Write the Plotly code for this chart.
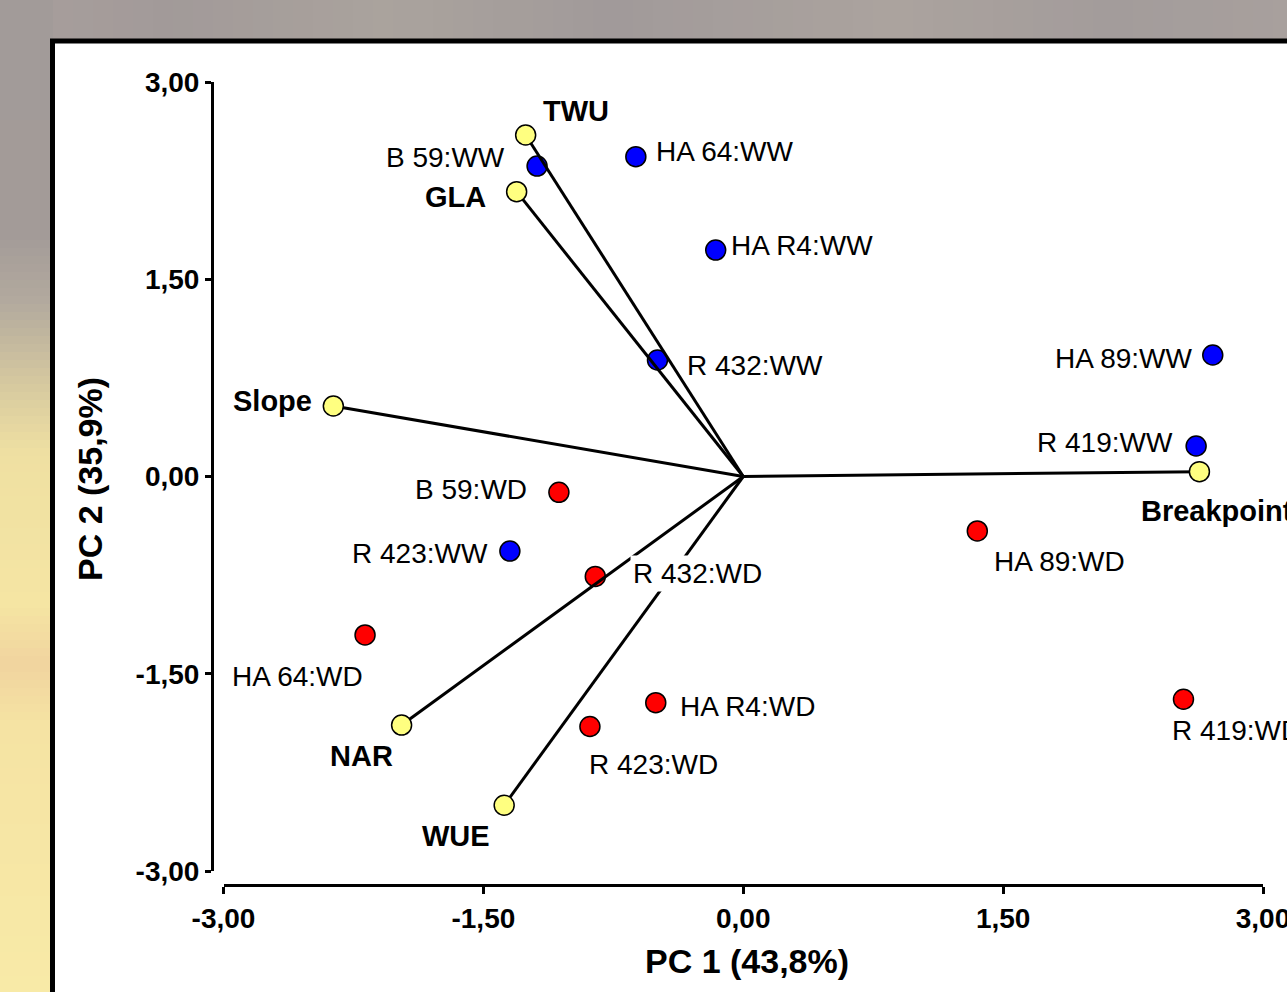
import plotly.graph_objects as go

# ---------------- data ----------------
var_names = ["TWU", "GLA", "Slope", "Breakpoint", "NAR", "WUE"]
var_pc1 = [-1.256, -1.308, -2.366, 2.633, -1.972, -1.380]
var_pc2 = [2.597, 2.166, 0.536, 0.037, -1.890, -2.500]

ww_names = ["B 59:WW", "HA 64:WW", "HA R4:WW", "R 432:WW", "HA 89:WW", "R 419:WW", "R 423:WW"]
ww_pc1 = [-1.190, -0.620, -0.159, -0.495, 2.710, 2.614, -1.347]
ww_pc2 = [2.361, 2.432, 1.722, 0.886, 0.924, 0.232, -0.567]

wd_names = ["B 59:WD", "R 432:WD", "HA 64:WD", "HA R4:WD", "R 423:WD", "HA 89:WD", "R 419:WD"]
wd_pc1 = [-1.064, -0.854, -2.183, -0.505, -0.885, 1.351, 2.541]
wd_pc2 = [-0.120, -0.760, -1.205, -1.720, -1.901, -0.414, -1.694]

tick_vals = [-3, -1.5, 0, 1.5, 3]
tick_text = ["-3,00", "-1,50", "0,00", "1,50", "3,00"]
x_title = "PC 1 (43,8%)"
y_title = "PC 2 (35,9%)"

# ---------------- label styling (anchor, xshift, yshift in px) ----------------
var_label_style = {
    "TWU": ("left", 16, 24),
    "GLA": ("right", -30, -5),
    "Slope": ("right", -20, 5),
    "Breakpoint": ("left", -59, -39),
    "NAR": ("left", -73, -31),
    "WUE": ("left", -83, -31),
}
sample_label_style = {
    "B 59:WW": ("right", -31, 9),
    "HA 64:WW": ("left", 19, 5),
    "HA R4:WW": ("left", 14, 5),
    "R 432:WW": ("left", 29, -6),
    "HA 89:WW": ("right", -20, -4),
    "R 419:WW": ("right", -22, 3),
    "R 423:WW": ("right", -21, -2),
    "B 59:WD": ("right", -31, 3),
    "R 432:WD": ("left", 35, 3),
    "HA 64:WD": ("left", -134, -42),
    "HA R4:WD": ("left", 23, -4),
    "R 423:WD": ("left", -2, -38),
    "HA 89:WD": ("left", 16, -31),
    "R 419:WD": ("left", -12, -31),
}

FONT = "Liberation Sans, Arial, Helvetica, sans-serif"
W, H = 1287, 992
ML, MR, MT, MB = 212, 24, 82, 107
PW = W - ML - MR
PH = H - MT - MB


def px_x(px):
    return (px - ML) / PW


def px_y(py):
    return (H - MB - py) / PH


def hex2rgb(h):
    h = h.lstrip("#")
    return [int(h[i:i + 2], 16) for i in (0, 2, 4)]


def blend(c0, c1, t):
    a, b = hex2rgb(c0), hex2rgb(c1)
    return "rgb(%d,%d,%d)" % tuple(round(a[i] + (b[i] - a[i]) * t) for i in range(3))


fig = go.Figure()

# sample points (under the loading lines)
fig.add_trace(go.Scatter(
    x=ww_pc1, y=ww_pc2, mode="markers", name="WW",
    marker=dict(size=20, color="#0000ff", line=dict(color="black", width=1.5)),
    cliponaxis=False, hoverinfo="text", text=ww_names))
fig.add_trace(go.Scatter(
    x=wd_pc1, y=wd_pc2, mode="markers", name="WD",
    marker=dict(size=20, color="#ff0000", line=dict(color="black", width=1.5)),
    cliponaxis=False, hoverinfo="text", text=wd_names))

# loading vectors from origin
for vx, vy in zip(var_pc1, var_pc2):
    fig.add_trace(go.Scatter(
        x=[0, vx], y=[0, vy], mode="lines",
        line=dict(color="black", width=3), hoverinfo="skip", cliponaxis=False))

# variable points
fig.add_trace(go.Scatter(
    x=var_pc1, y=var_pc2, mode="markers", name="Variables",
    marker=dict(size=20, color="#ffff80", line=dict(color="black", width=1.5)),
    cliponaxis=False, hoverinfo="text", text=var_names))

annotations = []
for n, vx, vy in zip(var_names, var_pc1, var_pc2):
    a, dx, dy = var_label_style[n]
    annotations.append(dict(x=vx, y=vy, xref="x", yref="y", text="<b>%s</b>" % n,
                            showarrow=False, xanchor=a, yanchor="middle",
                            xshift=dx, yshift=dy, borderpad=0,
                            font=dict(family=FONT, size=29, color="black")))
for names, xs, ys in ((ww_names, ww_pc1, ww_pc2), (wd_names, wd_pc1, wd_pc2)):
    for n, vx, vy in zip(names, xs, ys):
        a, dx, dy = sample_label_style[n]
        ann = dict(x=vx, y=vy, xref="x", yref="y", text=n,
                   showarrow=False, xanchor=a, yanchor="middle",
                   xshift=dx, yshift=dy, borderpad=0,
                   font=dict(family=FONT, size=28, color="black"))
        if n == "R 432:WD":
            ann["bgcolor"] = "white"
            ann["borderpad"] = 2
        annotations.append(ann)

# axis titles
annotations.append(dict(x=px_x(747), y=px_y(961), xref="paper", yref="paper",
                        text="<b>%s</b>" % x_title, showarrow=False,
                        xanchor="center", yanchor="middle",
                        font=dict(family=FONT, size=34, color="black")))
annotations.append(dict(x=px_x(90), y=px_y(479), xref="paper", yref="paper",
                        text="<b>%s</b>" % y_title, showarrow=False, textangle=-90,
                        xanchor="center", yanchor="middle",
                        font=dict(family=FONT, size=34, color="black")))

# background decoration (blurred photo look) and white framed panel
shapes = []
left_stops = [(0, "#a29b99"), (230, "#a39b98"), (300, "#b3aa9e"), (380, "#d6c99f"),
              (450, "#efe0a2"), (600, "#f5e5a3"), (660, "#f1d49f"), (720, "#f5e3a3"),
              (992, "#f8eaa7")]
step = 8
for yy in range(0, 992, step):
    for (y0, c0), (y1, c1) in zip(left_stops[:-1], left_stops[1:]):
        if y0 <= yy < y1:
            col = blend(c0, c1, (yy - y0) / (y1 - y0))
            break
    shapes.append(dict(type="rect", xref="paper", yref="paper",
                       x0=px_x(0), x1=px_x(53), y0=px_y(yy + step), y1=px_y(yy),
                       fillcolor=col, line=dict(width=0), layer="below"))
# subtle streaks in the top strip
top_stops = [(0, "#a89f9c"), (160, "#a29a99"), (380, "#aaa39d"), (600, "#a19a9a"),
             (880, "#aba39e"), (1100, "#a39c9b"), (1287, "#a8a09d")]
stepx = 20
for xx in range(53, 1287, stepx):
    for (x0, c0), (x1, c1) in zip(top_stops[:-1], top_stops[1:]):
        if x0 <= xx < x1:
            col = blend(c0, c1, (xx - x0) / (x1 - x0))
            break
    shapes.append(dict(type="rect", xref="paper", yref="paper",
                       x0=px_x(xx), x1=px_x(xx + stepx), y0=px_y(45), y1=px_y(0),
                       fillcolor=col, line=dict(width=0), layer="below"))
shapes.append(dict(type="rect", xref="paper", yref="paper",
                   x0=px_x(52.5), x1=px_x(1400), y0=px_y(1100), y1=px_y(41),
                   fillcolor="white", line=dict(color="black", width=5), layer="below"))

axis_common = dict(
    range=[-3, 3], anchor="free", position=0,
    showgrid=False, zeroline=False, showline=True, linecolor="black",
    linewidth=3, ticks="outside", tickwidth=3, tickcolor="black",
    tickvals=tick_vals, ticktext=tick_text, automargin=False,
    ticklabeloverflow="allow",
    tickfont=dict(family=FONT, size=28, color="black", weight="bold"),
)

fig.update_layout(
    width=W, height=H,
    margin=dict(l=ML, r=MR, t=MT, b=MB),
    paper_bgcolor="#a39c9a",
    plot_bgcolor="white",
    showlegend=False,
    shapes=shapes,
    annotations=annotations,
    font=dict(family=FONT, color="black"),
    xaxis=dict(domain=[11.5 / PW, 1], ticklen=7, **axis_common),
    yaxis=dict(domain=[14 / PH, 1], ticklen=6, **axis_common),
)

fig.write_html("out.html")
